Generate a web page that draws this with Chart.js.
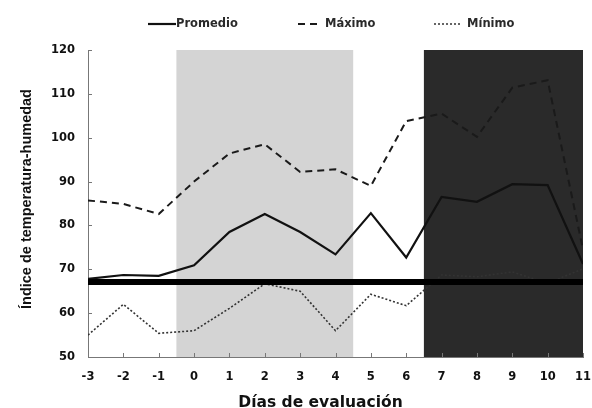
<!DOCTYPE html>
<html>
<head>
<meta charset="utf-8">
<script src="https://cdn.jsdelivr.net/npm/chart.js@4/dist/chart.umd.min.js"></script>
<style>
  html, body { margin: 0; padding: 0; background: #fff; }
  canvas { display: block; }
</style>
</head>
<body>
<canvas id="grafico" width="592" height="408"></canvas>
<script>
// Días de evaluación
const dias = [-3, -2, -1, 0, 1, 2, 3, 4, 5, 6, 7, 8, 9, 10, 11];

// Índice de temperatura-humedad diario
const promedio = [67.8, 68.7, 68.5, 70.9, 78.5, 82.6, 78.5, 73.4, 82.8, 72.7, 86.5, 85.4, 89.4, 89.2, 71.2];
const maximo   = [85.7, 84.9, 82.6, 90.0, 96.4, 98.5, 92.2, 92.8, 89.0, 103.8, 105.5, 100.2, 111.4, 113.1, 74.5];
const minimo   = [55.0, 62.0, 55.4, 56.0, 61.1, 66.7, 65.0, 56.0, 64.3, 61.7, 68.7, 68.3, 69.4, 66.8, 70.1];

// Umbral de estrés calórico
const umbral = 67.1;

// Periodos sombreados (inicio y fin en días)
const periodoInicio = [-0.5, 6.5];
const periodoFin    = [4.5, 11];

// Escalas
const yTicks = [50, 60, 70, 80, 90, 100, 110, 120];

const serie = vals => dias.map((d, i) => ({ x: d, y: vals[i] }));

const coloresPeriodo = ['#d4d4d4', '#2a2a2a'];

const sombreado = {
  id: 'sombreado',
  beforeDraw(chart) {
    const { ctx, chartArea: a, scales: { x } } = chart;
    ctx.save();
    periodoInicio.forEach((ini, i) => {
      const x0 = x.getPixelForValue(ini);
      const x1 = x.getPixelForValue(periodoFin[i]);
      ctx.fillStyle = coloresPeriodo[i];
      ctx.fillRect(x0, a.top, x1 - x0, a.bottom - a.top);
    });
    ctx.restore();
  }
};

// Marcas de graduación hacia el interior, títulos de ejes y leyenda
const adornos = {
  id: 'adornos',
  afterDraw(chart) {
    const { ctx, chartArea: a, scales: { x, y } } = chart;
    ctx.save();
    ctx.strokeStyle = '#777';
    ctx.lineWidth = 1;
    ctx.beginPath();
    y.ticks.forEach(t => {
      const py = Math.round(y.getPixelForValue(t.value)) + 0.5;
      ctx.moveTo(a.left, py);
      ctx.lineTo(a.left + 4, py);
    });
    x.ticks.forEach(t => {
      const px = Math.round(x.getPixelForValue(t.value)) + 0.5;
      ctx.moveTo(px, a.bottom);
      ctx.lineTo(px, a.bottom - 4);
    });
    ctx.stroke();

    // Título del eje X
    ctx.fillStyle = '#111';
    ctx.font = 'bold 15.5px "DejaVu Sans"';
    ctx.textAlign = 'center';
    ctx.textBaseline = 'alphabetic';
    ctx.fillText('Días de evaluación', 320.5, 407);

    // Título del eje Y
    ctx.save();
    ctx.translate(31, 199);
    ctx.rotate(-Math.PI / 2);
    ctx.font = 'bold 14.5px "Liberation Sans"';
    ctx.fillText('Índice de temperatura-humedad', 0, 0);
    ctx.restore();

    // Leyenda
    const items = [
      { ds: 0, x0: 148, x1: 176, tx: 176 },
      { ds: 1, x0: 298, x1: 318, tx: 325 },
      { ds: 2, x0: 434, x1: 462, tx: 467 }
    ];
    const ly = 24;
    items.forEach(it => {
      const d = chart.data.datasets[it.ds];
      ctx.save();
      ctx.strokeStyle = d.borderColor;
      ctx.lineWidth = d.borderWidth;
      ctx.setLineDash(d.borderDash || []);
      ctx.beginPath();
      ctx.moveTo(it.x0, ly);
      ctx.lineTo(it.x1, ly);
      ctx.stroke();
      ctx.restore();
      ctx.fillStyle = '#2a2a2a';
      ctx.font = 'bold 11.5px "DejaVu Sans"';
      ctx.textAlign = 'left';
      ctx.textBaseline = 'middle';
      ctx.fillText(d.label, it.tx, ly);
    });
    ctx.restore();
  }
};

const fuenteTicks = { family: '"DejaVu Sans"', size: 11.5, weight: 'bold' };

new Chart(document.getElementById('grafico'), {
  type: 'line',
  data: {
    datasets: [
      {
        label: 'Promedio',
        data: serie(promedio),
        borderColor: '#111',
        borderWidth: 2.2,
        pointRadius: 0,
        tension: 0,
        order: 2
      },
      {
        label: 'Máximo',
        data: serie(maximo),
        borderColor: '#1a1a1a',
        borderWidth: 2,
        borderDash: [7, 5],
        pointRadius: 0,
        tension: 0,
        order: 3
      },
      {
        label: 'Mínimo',
        data: serie(minimo),
        borderColor: '#333',
        borderWidth: 1.6,
        borderDash: [2, 2],
        pointRadius: 0,
        tension: 0,
        order: 4
      },
      {
        label: 'Umbral',
        data: [{ x: dias[0], y: umbral }, { x: dias[dias.length - 1], y: umbral }],
        borderColor: '#000',
        borderWidth: 6,
        pointRadius: 0,
        order: 1
      }
    ]
  },
  options: {
    responsive: false,
    animation: false,
    layout: { padding: { top: 50, right: 9, left: 0, bottom: 0 } },
    plugins: {
      legend: { display: false },
      tooltip: { enabled: false }
    },
    scales: {
      x: {
        type: 'linear',
        min: dias[0],
        max: dias[dias.length - 1],
        afterFit: s => { s.height = 51; s.paddingLeft = 0; s.paddingRight = 0; },
        grid: { drawOnChartArea: false, drawTicks: false },
        border: { color: '#777', width: 1 },
        ticks: {
          stepSize: 1,
          padding: 13,
          color: '#111',
          font: fuenteTicks
        }
      },
      y: {
        min: yTicks[0],
        max: yTicks[yTicks.length - 1],
        afterFit: s => { s.width = 88; s.paddingTop = 0; s.paddingBottom = 0; },
        afterBuildTicks: s => { s.ticks = yTicks.map(v => ({ value: v })); },
        grid: { drawOnChartArea: false, drawTicks: false },
        border: { color: '#777', width: 1 },
        ticks: {
          padding: 13,
          color: '#111',
          font: fuenteTicks
        }
      }
    }
  },
  plugins: [sombreado, adornos]
});
</script>
</body>
</html>
